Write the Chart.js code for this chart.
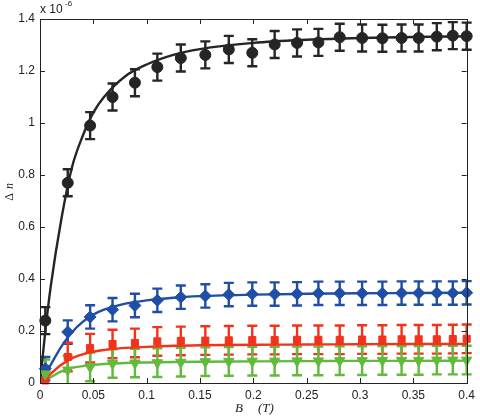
<!DOCTYPE html>
<html>
<head>
<meta charset="utf-8">
<script src="https://cdn.jsdelivr.net/npm/chart.js@4.4.0/dist/chart.umd.min.js"></script>
<style>
  html, body { margin: 0; padding: 0; background: #fff; }
  #wrap { width: 480px; height: 416px; }
</style>
</head>
<body>
<div id="wrap"><canvas id="myChart" width="480" height="416"></canvas></div>
<script>
// B (T) positions of the measured points
const b_field = [0.005, 0.026, 0.047, 0.068, 0.089, 0.11, 0.132, 0.155, 0.177, 0.199, 0.22,
    0.241, 0.261, 0.281, 0.302, 0.321, 0.339, 0.355, 0.372, 0.387, 0.4];

// measured delta n (x 10^-6)
const black_vals = [0.24, 0.77, 0.99, 1.1, 1.155, 1.215, 1.25, 1.262, 1.283, 1.27, 1.302,
    1.308, 1.31, 1.33, 1.327, 1.326, 1.327, 1.327, 1.332, 1.336, 1.334];
const blue_vals = [0.055, 0.196, 0.254, 0.282, 0.298, 0.318, 0.33, 0.335, 0.34, 0.342, 0.342,
    0.343, 0.345, 0.345, 0.345, 0.345, 0.346, 0.346, 0.346, 0.346, 0.347];
const red_vals = [0.01, 0.1, 0.134, 0.15, 0.154, 0.16, 0.162, 0.163, 0.164, 0.165, 0.165,
    0.166, 0.166, 0.166, 0.167, 0.167, 0.168, 0.168, 0.168, 0.169, 0.17];
const green_vals = [0.035, 0.05, 0.062, 0.075, 0.077, 0.078, 0.08, 0.082, 0.083, 0.084, 0.084,
    0.085, 0.085, 0.086, 0.086, 0.087, 0.087, 0.087, 0.088, 0.088, 0.088];

// error bar half heights
const black_err = 0.052;
const blue_err = 0.045;
const red_err = 0.055;
const green_err = 0.055;

// fitted curves
const fit_x = [0, 0.005, 0.01, 0.02, 0.03, 0.04, 0.05, 0.06, 0.08, 0.1, 0.125, 0.15, 0.2, 0.25, 0.3, 0.35, 0.4];
const black_fit = [0, 0.2, 0.37, 0.63, 0.83, 0.95, 1.04, 1.1, 1.18, 1.225, 1.262, 1.284, 1.308, 1.32, 1.327, 1.331, 1.333];
const blue_fit = [0, 0.035, 0.07, 0.14, 0.195, 0.235, 0.263, 0.282, 0.305, 0.318, 0.328, 0.334, 0.34, 0.343, 0.345, 0.346, 0.347];
const red_fit = [0, 0.015, 0.035, 0.07, 0.095, 0.11, 0.12, 0.127, 0.135, 0.139, 0.143, 0.145, 0.147, 0.148, 0.149, 0.15, 0.15];
const green_fit = [0, 0.01, 0.022, 0.045, 0.058, 0.065, 0.07, 0.073, 0.077, 0.079, 0.081, 0.082, 0.083, 0.084, 0.085, 0.085, 0.086];

// tick labels
const x_ticks = [0, 0.05, 0.1, 0.15, 0.2, 0.25, 0.3, 0.35, 0.4];
const y_ticks = [0, 0.2, 0.4, 0.6, 0.8, 1, 1.2, 1.4];

const BLACK = '#252525';
const BLUE = '#1f4ea6';
const RED = '#f3321c';
const GREEN = '#63b93c';

const pts = (xs, ys) => xs.map((x, i) => ({ x: x, y: ys[i] }));

const series = [
    { vals: black_vals, err: black_err, color: BLACK },
    { vals: blue_vals, err: blue_err, color: BLUE },
    { vals: red_vals, err: red_err, color: RED },
    { vals: green_vals, err: green_err, color: GREEN }
];

const errorBars = {
    id: 'errorBars',
    beforeDatasetsDraw(chart) {
        const ctx = chart.ctx;
        const xs = chart.scales.x, ys = chart.scales.y;
        ctx.save();
        ctx.lineWidth = 2.4;
        series.forEach(s => {
            ctx.strokeStyle = s.color;
            s.vals.forEach((v, i) => {
                const px = xs.getPixelForValue(b_field[i]);
                const top = ys.getPixelForValue(Math.min(v + s.err, 1.4));
                const bot = ys.getPixelForValue(Math.max(v - s.err, 0));
                ctx.beginPath();
                ctx.moveTo(px, top); ctx.lineTo(px, bot);
                if (v + s.err <= 1.4) { ctx.moveTo(px - 5, top); ctx.lineTo(px + 5, top); }
                if (v - s.err >= 0) { ctx.moveTo(px - 5, bot); ctx.lineTo(px + 5, bot); }
                ctx.stroke();
            });
        });
        ctx.restore();
    }
};

const frame = {
    id: 'frame',
    afterDraw(chart) {
        const ctx = chart.ctx;
        const a = chart.chartArea;
        const xs = chart.scales.x, ys = chart.scales.y;
        ctx.save();
        ctx.strokeStyle = '#222';
        ctx.lineWidth = 1;
        ctx.strokeRect(Math.round(a.left) + 0.5, Math.round(a.top) + 0.5,
            Math.round(a.right - a.left), Math.round(a.bottom - a.top));
        ctx.beginPath();
        x_ticks.forEach(t => {
            const px = Math.round(xs.getPixelForValue(t)) + 0.5;
            ctx.moveTo(px, a.bottom); ctx.lineTo(px, a.bottom - 5);
            ctx.moveTo(px, a.top); ctx.lineTo(px, a.top + 5);
        });
        y_ticks.forEach(t => {
            const py = Math.round(ys.getPixelForValue(t)) + 0.5;
            ctx.moveTo(a.left, py); ctx.lineTo(a.left + 5, py);
            ctx.moveTo(a.right, py); ctx.lineTo(a.right - 5, py);
        });
        ctx.stroke();

        ctx.fillStyle = '#222';
        // exponent label
        ctx.font = '12px "Liberation Sans", Arial, sans-serif';
        ctx.textBaseline = 'alphabetic';
        ctx.textAlign = 'left';
        ctx.fillText('x 10', 40, 13);
        ctx.font = '8px "Liberation Sans", Arial, sans-serif';
        ctx.fillText('-6', 65, 6);

        // axis titles
        ctx.font = 'italic 13px "Liberation Serif", "DejaVu Serif", serif';
        ctx.fillText('B', 235, 412);
        ctx.fillText('(T)', 258, 412);

        ctx.save();
        ctx.translate(13, 192);
        ctx.rotate(-Math.PI / 2);
        ctx.textAlign = 'center';
        ctx.font = '12px "Liberation Serif", "DejaVu Serif", serif';
        ctx.fillText('\u0394', -5, 0);
        ctx.font = 'italic 12px "Liberation Serif", "DejaVu Serif", serif';
        ctx.fillText('n', 6, 0);
        ctx.restore();
        ctx.restore();
    }
};

const pointSet = (vals, color, style, radius, rotation) => ({
    data: pts(b_field, vals),
    showLine: false,
    pointStyle: style,
    pointRadius: radius,
    pointRotation: rotation || 0,
    pointBackgroundColor: color,
    pointBorderColor: color,
    pointBorderWidth: 1,
    clip: 10
});

const curveSet = (vals, color) => ({
    data: pts(fit_x, vals),
    borderColor: color,
    borderWidth: 2.4,
    pointRadius: 0,
    cubicInterpolationMode: 'monotone',
    fill: false
});

const tickFont = { family: '"Liberation Sans", Arial, sans-serif', size: 12 };

const config = {
    type: 'line',
    data: {
        datasets: [
            pointSet(green_vals, GREEN, 'triangle', 6, 180),
            pointSet(red_vals, RED, 'rect', 5),
            pointSet(blue_vals, BLUE, 'rectRot', 6),
            pointSet(black_vals, BLACK, 'circle', 5.5),
            curveSet(green_fit, GREEN),
            curveSet(red_fit, RED),
            curveSet(blue_fit, BLUE),
            curveSet(black_fit, BLACK)
        ]
    },
    options: {
        responsive: false,
        animation: false,
        layout: { padding: { top: 19, right: 8, left: 0, bottom: 0 } },
        plugins: { legend: { display: false }, tooltip: { enabled: false } },
        scales: {
            x: {
                type: 'linear',
                min: 0,
                max: 0.4,
                grid: { display: false, drawTicks: false },
                border: { display: false },
                afterBuildTicks: scale => { scale.ticks = x_ticks.map(v => ({ value: v })); },
                afterFit: scale => { scale.height = 33; },
                ticks: {
                    padding: 5,
                    color: '#222',
                    font: tickFont,
                    maxRotation: 0,
                    callback: v => String(v)
                }
            },
            y: {
                type: 'linear',
                min: 0,
                max: 1.4,
                grid: { display: false, drawTicks: false },
                border: { display: false },
                afterBuildTicks: scale => { scale.ticks = y_ticks.map(v => ({ value: v })); },
                afterFit: scale => { scale.width = 40; },
                ticks: {
                    padding: 5,
                    color: '#222',
                    font: tickFont,
                    callback: v => String(v)
                }
            }
        }
    },
    plugins: [errorBars, frame]
};

const myChart = new Chart(document.getElementById('myChart').getContext('2d'), config);
</script>
</body>
</html>
